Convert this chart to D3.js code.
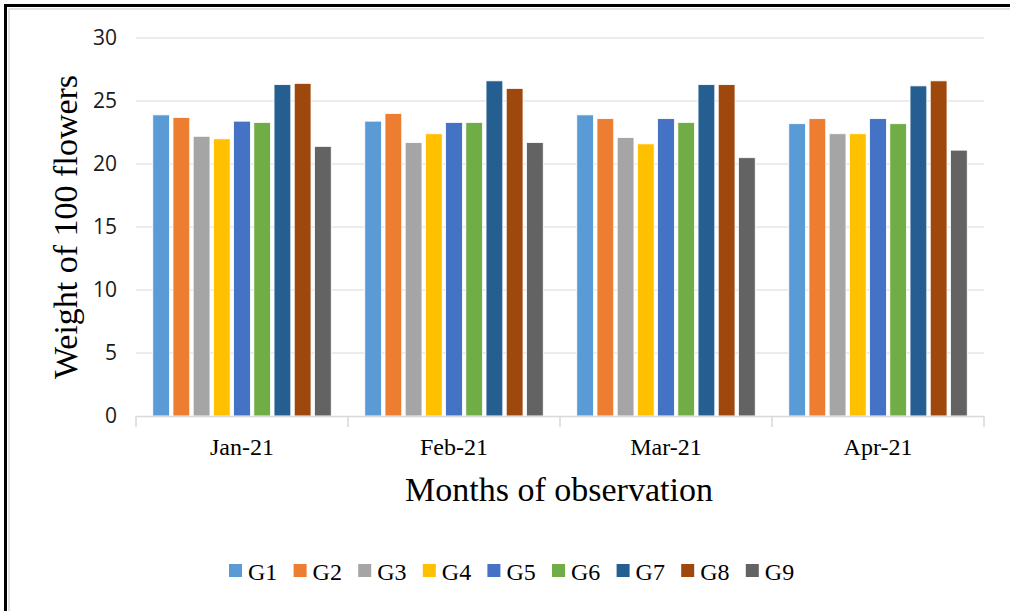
<!DOCTYPE html>
<html>
<head>
  <meta charset="utf-8">
  <title>Weight of 100 flowers</title>
  <script src="https://d3js.org/d3.v7.min.js"></script>
  <style>
    body { margin: 0; background: #fff; }
  </style>
</head>
<body>
  <script>
    // data
    var months = ["Jan-21", "Feb-21", "Mar-21", "Apr-21"];
    var groups = ["G1", "G2", "G3", "G4", "G5", "G6", "G7", "G8", "G9"];
    var jan = [23.9, 23.7, 22.2, 22.0, 23.4, 23.3, 26.3, 26.4, 21.4];
    var feb = [23.4, 24.0, 21.7, 22.4, 23.3, 23.3, 26.6, 26.0, 21.7];
    var mar = [23.9, 23.6, 22.1, 21.6, 23.6, 23.3, 26.3, 26.3, 20.5];
    var apr = [23.2, 23.6, 22.4, 22.4, 23.6, 23.2, 26.2, 26.6, 21.1];
    var yTicks = [0, 5, 10, 15, 20, 25, 30];
    var colors = ["#5b9bd5", "#ed7d31", "#a5a5a5", "#ffc000", "#4472c4",
                  "#70ad47", "#255e91", "#9e480e", "#636363"];

    var values = [jan, feb, mar, apr];
    var width = 1010, height = 611;

    var svg = d3.select("body").append("svg")
      .attr("width", width).attr("height", height);

    // frame
    svg.append("rect").attr("x", 9).attr("y", 9)
      .attr("width", width).attr("height", height)
      .attr("fill", "none").attr("stroke", "#d9d9d9").attr("stroke-width", 1.5);
    svg.append("line").attr("x1", 5.5).attr("x2", width).attr("y1", 5.5).attr("y2", 5.5)
      .attr("stroke", "#000").attr("stroke-width", 3);
    svg.append("line").attr("x1", 5.5).attr("x2", 5.5).attr("y1", 4).attr("y2", height)
      .attr("stroke", "#000").attr("stroke-width", 3);

    var x0 = d3.scaleBand().domain(months).range([136, 984]).paddingInner(0).paddingOuter(0);
    var x1 = d3.scaleBand().domain(groups).range([0, x0.bandwidth()])
      .paddingInner(0.17).paddingOuter(0.83);
    var y = d3.scaleLinear().domain([0, 30]).range([416, 38]);

    // grid
    svg.append("g").selectAll("line").data(yTicks.filter(d => d > 0)).enter()
      .append("line")
      .attr("x1", 136).attr("x2", 984)
      .attr("y1", d => y(d)).attr("y2", d => y(d))
      .attr("stroke", "#d9d9d9").attr("stroke-width", 1.2);

    // y axis labels
    var yAxis = svg.append("g").attr("transform", "translate(136,0)")
      .call(d3.axisLeft(y).tickValues(yTicks).tickSize(0).tickPadding(19));
    yAxis.select(".domain").remove();
    yAxis.selectAll("text").attr("font-family", "'Open Sans', sans-serif")
      .attr("font-size", 21).attr("fill", "#1a1a1a");

    // bars
    var grp = svg.append("g").selectAll("g").data(months).enter().append("g")
      .attr("transform", d => "translate(" + x0(d) + ",0)");
    grp.selectAll("rect")
      .data((m, i) => values[i].map((v, j) => ({ g: groups[j], v: v, c: colors[j] })))
      .enter().append("rect")
      .attr("x", d => x1(d.g))
      .attr("y", d => y(d.v))
      .attr("width", x1.bandwidth())
      .attr("height", d => y(0) - y(d.v))
      .attr("fill", d => d.c)
      .attr("stroke", "#ffffff").attr("stroke-width", 0.8);

    // x axis
    var xAxis = svg.append("g").attr("transform", "translate(0,416)")
      .call(d3.axisBottom(x0).tickSize(0).tickPadding(22).tickSizeOuter(0));
    xAxis.select(".domain").attr("stroke", "#d9d9d9").attr("stroke-width", 1.5);
    xAxis.selectAll("text").attr("font-family", "'Liberation Serif', serif")
      .attr("font-size", 24).attr("fill", "#000");
    var bounds = months.map(m => x0(m)).concat([x0.range()[1]]);
    xAxis.selectAll(".bound").data(bounds).enter().append("line")
      .attr("x1", d => d).attr("x2", d => d).attr("y1", 0).attr("y2", 11)
      .attr("stroke", "#d9d9d9").attr("stroke-width", 1.5);

    // axis titles
    svg.append("text").attr("x", 559).attr("y", 501)
      .attr("text-anchor", "middle")
      .attr("font-family", "'Liberation Serif', serif").attr("font-size", 34)
      .text("Months of observation");
    svg.append("text")
      .attr("transform", "translate(77,227) rotate(-90)")
      .attr("text-anchor", "middle")
      .attr("font-family", "'Liberation Serif', serif").attr("font-size", 34)
      .text("Weight of 100 flowers");

    // legend
    var leg = svg.append("g").selectAll("g").data(groups).enter().append("g")
      .attr("transform", (d, i) => "translate(" + (229 + i * 64.6) + ",564)");
    leg.append("rect").attr("width", 13).attr("height", 13)
      .attr("fill", (d, i) => colors[i]);
    leg.append("text").attr("x", 19).attr("y", 16)
      .attr("font-family", "'Liberation Serif', serif").attr("font-size", 24)
      .text(d => d);
  </script>
</body>
</html>
